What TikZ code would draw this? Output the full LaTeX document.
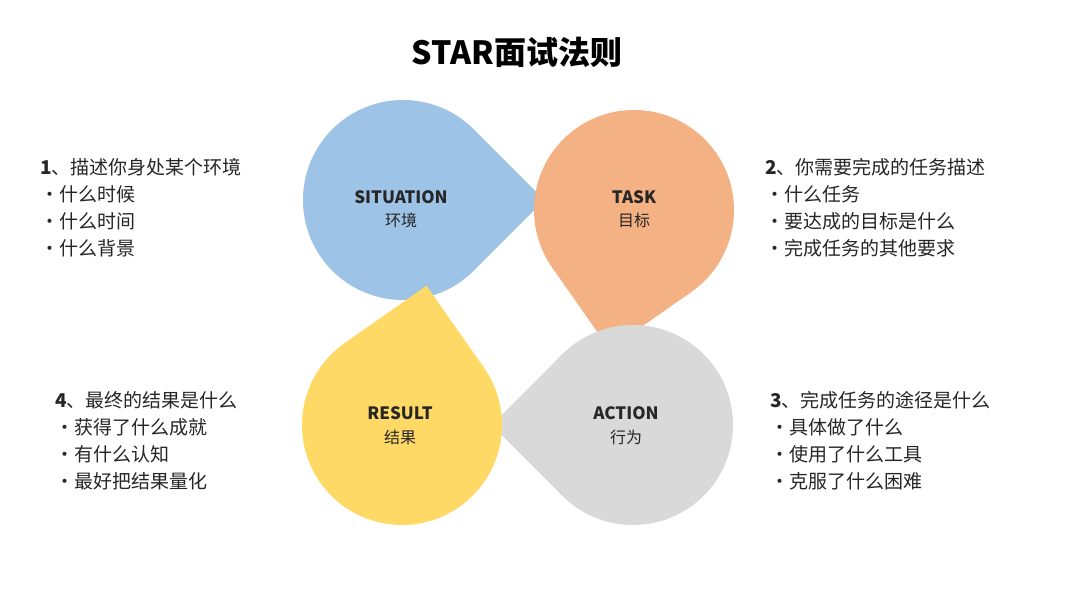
\documentclass[tikz,border=0pt]{standalone}
\usepackage{fontspec}
\setmainfont{Noto Sans CJK SC}
\usetikzlibrary{calc}
\definecolor{cblue}{RGB}{157,195,230}
\definecolor{corange}{RGB}{244,177,131}
\definecolor{cgray}{RGB}{217,217,217}
\definecolor{cyellow}{RGB}{255,217,102}
\begin{document}
\begin{tikzpicture}[x=1pt,y=-1pt,
  lbl/.style={font=\fontsize{17}{20}\selectfont\bfseries, text=black!85},
  sub/.style={font=\fontsize{16}{19}\selectfont, text=black!85},
  txt/.style={anchor=west, font=\fontsize{19}{27}\selectfont, align=left, text=black!85, inner sep=0pt}]
\useasboundingbox (0,0) rectangle (1080,602);
\fill[white] (0,0) rectangle (1080,602);
\coordinate (cs) at (403,200);
\coordinate (ct) at (634,210);
\coordinate (ca) at (633,425);
\coordinate (cr) at (402,425);
\fill[cblue] (cs) circle[radius=100];
\fill[cblue] ($(cs)+(45:100)$) -- ($(cs)+(0:141.4)$) -- ($(cs)+(-45:100)$) -- cycle;
\fill[corange] (ct) circle[radius=100];
\fill[corange] ($(ct)+(55:100)$) -- ($(ct)+(100:141.4)$) -- ($(ct)+(145:100)$) -- cycle;
\fill[cgray] (ca) circle[radius=100];
\fill[cgray] ($(ca)+(135:100)$) -- ($(ca)+(180:141.4)$) -- ($(ca)+(225:100)$) -- cycle;
\fill[cyellow] (cr) circle[radius=100];
\fill[cyellow] ($(cr)+(-35:100)$) -- ($(cr)+(-80:141.4)$) -- ($(cr)+(-125:100)$) -- cycle;
\node[font=\fontsize{32}{36}\selectfont\bfseries] (title) at (517,52) {STAR面试法则};
\node[lbl] (s1) at (401,197) {SITUATION};
\node[sub] (s2) at (401,220) {环境};
\node[lbl] (t1) at (634,197) {TASK};
\node[sub] (t2) at (634,220) {目标};
\node[lbl] (r1) at (400,413) {RESULT};
\node[sub] (r2) at (400,437) {结果};
\node[lbl] (a1) at (626,413) {ACTION};
\node[sub] (a2) at (626,437) {行为};
\node[txt] (L1) at (40,208) {{\bfseries 1}、描述你身处某个环境\\·什么时候\\·什么时间\\·什么背景};
\node[txt] (R1) at (765,208) {{\bfseries 2}、你需要完成的任务描述\\·什么任务\\·要达成的目标是什么\\·完成任务的其他要求};
\node[txt] (L2) at (55,441) {{\bfseries 4}、最终的结果是什么\\·获得了什么成就\\·有什么认知\\·最好把结果量化};
\node[txt] (R2) at (770,441) {{\bfseries 3}、完成任务的途径是什么\\·具体做了什么\\·使用了什么工具\\·克服了什么困难};
\end{tikzpicture}
\end{document}
